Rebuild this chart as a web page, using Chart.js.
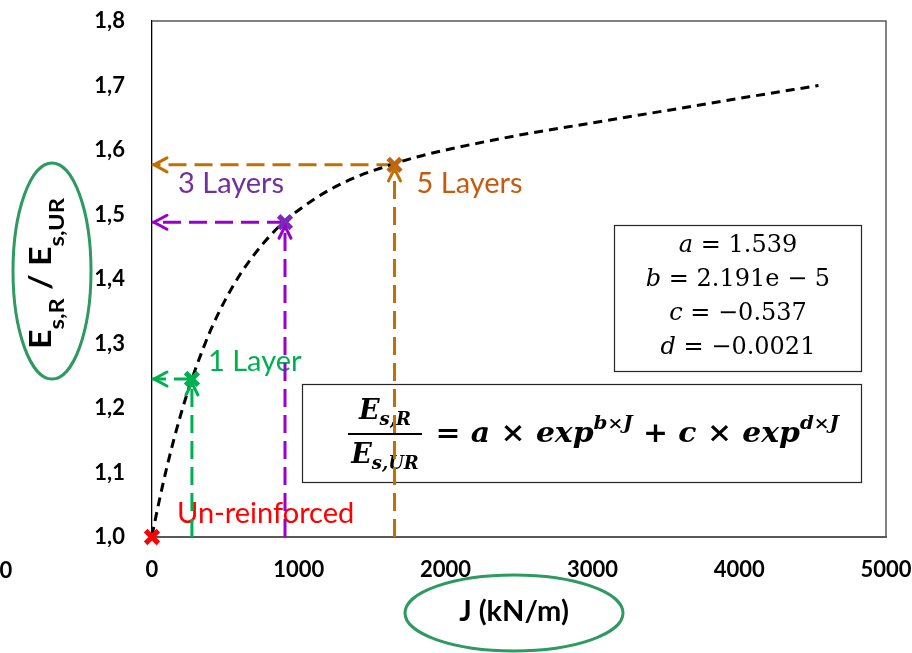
<!DOCTYPE html>
<html>
<head>
<meta charset="utf-8">
<script src="https://cdn.jsdelivr.net/npm/chart.js@4.4.0/dist/chart.umd.min.js"></script>
<style>
  html, body { margin: 0; padding: 0; background: #fff; }
</style>
</head>
<body>
<canvas id="chart" width="912" height="653"></canvas>
<script>
// fitted curve
var curveJ = [0, 50, 100, 150, 200, 250, 300, 400, 500, 600, 700, 800, 900, 1000, 1200, 1400, 1600, 1800, 2000, 2500, 3000, 3500, 4000, 4540];
var curveRatio = [1.002, 1.057, 1.107, 1.152, 1.193, 1.230, 1.263, 1.321, 1.368, 1.407, 1.439, 1.466, 1.489, 1.507, 1.537, 1.559, 1.575, 1.589, 1.600, 1.623, 1.642, 1.661, 1.680, 1.700];

// reinforcement cases
var layerNames = ['Un-reinforced', '1 Layer', '3 Layers', '5 Layers'];
var layerJ = [0, 272, 906, 1652];
var layerRatio = [1.0, 1.245, 1.488, 1.577];

// axes
var xTicks = [0, 1000, 2000, 3000, 4000, 5000];
var yTickLabels = ['1,0', '1,1', '1,2', '1,3', '1,4', '1,5', '1,6', '1,7', '1,8'];

// fit parameters
var paramNames = ['a', 'b', 'c', 'd'];
var paramValues = ['1.539', '2.191e \u2212 5', '\u22120.537', '\u22120.0021'];

var lineColors = ['#ff0000', '#00b050', '#9900cc', '#bf7000'];
var markColors = ['#ff0000', '#00b050', '#7a2ab8', '#c0650f'];
var textColors = ['#ff0000', '#00b050', '#7030a0', '#c55a11'];
var textOffsets = [[25, -14], [16, -8], [-107, -29], [22, 28]];

var datasets = [];
datasets.push({
    label: 'fit',
    data: curveJ.map(function(j, i) { return { x: j, y: curveRatio[i] }; }),
    showLine: true,
    borderColor: '#000',
    borderWidth: 3,
    borderDash: [9, 6],
    pointRadius: 0,
    cubicInterpolationMode: 'monotone',
    order: 1
});
for (var i = 1; i < layerNames.length; i++) {
    // vertical guide up to the point
    datasets.push({
        data: [{ x: layerJ[i], y: 1.0 }, { x: layerJ[i], y: layerRatio[i] }],
        showLine: true, borderColor: lineColors[i], borderWidth: 3,
        borderDash: [18, 8], pointRadius: 0, order: 2
    });
    // horizontal guide back to the axis
    datasets.push({
        data: [{ x: layerJ[i], y: layerRatio[i] }, { x: 0, y: layerRatio[i] }],
        showLine: true, borderColor: lineColors[i], borderWidth: 3,
        borderDash: [18, 8], pointRadius: 0, order: 2
    });
}
for (var k = 0; k < layerNames.length; k++) {
    datasets.push({
        label: layerNames[k],
        data: [{ x: layerJ[k], y: layerRatio[k] }],
        pointStyle: 'crossRot',
        pointRadius: 9,
        pointBorderWidth: 5,
        pointBorderColor: markColors[k],
        pointBackgroundColor: markColors[k],
        clip: false,
        order: 0
    });
}

function drawRuns(ctx, runs, x, y) {
    runs.forEach(function(r) {
        ctx.font = r[1];
        ctx.fillText(r[0], x, y + (r[2] || 0));
        x += ctx.measureText(r[0]).width;
    });
    return x;
}
function runsWidth(ctx, runs) {
    var w = 0;
    runs.forEach(function(r) { ctx.font = r[1]; w += ctx.measureText(r[0]).width; });
    return w;
}

var decor = {
    id: 'decor',
    beforeDatasetsDraw: function(chart) {
        var ctx = chart.ctx, a = chart.chartArea;
        var xs = chart.scales.x, ys = chart.scales.y;
        ctx.save();
        // top and right of the frame
        ctx.strokeStyle = '#595959';
        ctx.lineWidth = 1.5;
        ctx.beginPath();
        ctx.moveTo(a.left, a.top);
        ctx.lineTo(a.right, a.top);
        ctx.lineTo(a.right, a.bottom);
        ctx.stroke();

        // case labels
        ctx.font = '29px Lato';
        ctx.textAlign = 'left';
        ctx.textBaseline = 'alphabetic';
        for (var i = 0; i < layerNames.length; i++) {
            ctx.fillStyle = textColors[i];
            ctx.fillText(layerNames[i],
                xs.getPixelForValue(layerJ[i]) + textOffsets[i][0],
                ys.getPixelForValue(layerRatio[i]) + textOffsets[i][1]);
        }

        // parameter box
        ctx.fillStyle = '#fff';
        ctx.strokeStyle = '#262626';
        ctx.lineWidth = 1.2;
        ctx.fillRect(614, 225, 247, 146);
        ctx.strokeRect(614.5, 225.5, 247, 146);
        ctx.fillStyle = '#000';
        for (var p = 0; p < paramNames.length; p++) {
            var runs = [[paramNames[p], 'italic 24px "DejaVu Serif"'], [' = ' + paramValues[p], '24px "DejaVu Serif"']];
            var w = runsWidth(ctx, runs);
            drawRuns(ctx, runs, 738 - w / 2, 252 + p * 34);
        }

        // formula box
        ctx.fillStyle = '#fff';
        ctx.fillRect(302, 384, 559, 98);
        ctx.strokeRect(302.5, 384.5, 559, 98);
        ctx.fillStyle = '#000';
        var FB = 'italic bold 27px "DejaVu Serif"';
        var FS = 'italic bold 18px "DejaVu Serif"';
        var UB = 'bold 27px "DejaVu Serif"';
        var US = 'bold 17px "DejaVu Serif"';
        var num = [['E', FB], ['s,R', FS, 6]];
        var den = [['E', FB], ['s,UR', FS, 6]];
        drawRuns(ctx, num, 385 - runsWidth(ctx, num) / 2, 419);
        drawRuns(ctx, den, 385 - runsWidth(ctx, den) / 2, 463);
        ctx.fillRect(348, 433, 74, 2);
        var rhs = [[' = ', UB], ['a', FB], [' \u00d7 ', UB], ['exp', FB], ['b', FS, -13], ['\u00d7', US, -13], ['J', FS, -13],
                   [' + ', UB], ['c', FB], [' \u00d7 ', UB], ['exp', FB], ['d', FS, -13], ['\u00d7', US, -13], ['J', FS, -13]];
        var rw = runsWidth(ctx, rhs);
        ctx.save();
        ctx.translate(425, 442);
        ctx.scale(414 / rw, 1);
        drawRuns(ctx, rhs, 0, 0);
        ctx.restore();
        ctx.restore();
    },
    afterDatasetsDraw: function(chart) {
        var ctx = chart.ctx;
        var xs = chart.scales.x, ys = chart.scales.y;
        var x0 = xs.getPixelForValue(0);
        ctx.save();
        ctx.lineWidth = 3;
        ctx.lineCap = 'round';
        for (var i = 1; i < layerNames.length; i++) {
            var px = xs.getPixelForValue(layerJ[i]);
            var py = ys.getPixelForValue(layerRatio[i]);
            ctx.strokeStyle = lineColors[i];
            ctx.beginPath();
            ctx.moveTo(x0 + 15, py - 7);
            ctx.lineTo(x0 + 2, py);
            ctx.lineTo(x0 + 15, py + 7);
            ctx.moveTo(px - 6, py + 16);
            ctx.lineTo(px, py + 4);
            ctx.lineTo(px + 6, py + 16);
            ctx.stroke();
        }
        ctx.restore();
    },
    afterDraw: function(chart) {
        var ctx = chart.ctx;
        ctx.save();
        // ellipses round the axis titles
        ctx.strokeStyle = '#2e9a62';
        ctx.lineWidth = 3;
        ctx.beginPath();
        ctx.ellipse(52, 271, 39, 108, 0, 0, Math.PI * 2);
        ctx.stroke();
        ctx.beginPath();
        ctx.ellipse(514, 613, 109, 38, 0, 0, Math.PI * 2);
        ctx.stroke();

        ctx.fillStyle = '#000';
        ctx.font = 'bold 29px Lato';
        ctx.textAlign = 'center';
        ctx.textBaseline = 'middle';
        ctx.fillText('J (kN/m)', 514, 612);

        // stray tick label at the left edge
        ctx.font = 'bold 22px Lato';
        ctx.fillText('0', 6, 571);

        // rotated y title
        ctx.textAlign = 'left';
        ctx.textBaseline = 'alphabetic';
        var BE = 'bold 30px Lato', BS = 'bold 21px Lato';
        var title = [['E', BE], ['s,R', BS, 13], [' / ', BE], ['E', BE], ['s,UR', BS, 13]];
        var tw = runsWidth(ctx, title);
        ctx.translate(51, 349);
        ctx.rotate(-Math.PI / 2);
        ctx.scale(151 / tw, 1);
        drawRuns(ctx, title, 0, 0);
        ctx.restore();
    }
};

new Chart(document.getElementById('chart'), {
    type: 'scatter',
    data: { datasets: datasets },
    plugins: [decor],
    options: {
        responsive: false,
        animation: false,
        devicePixelRatio: 1,
        layout: { padding: { top: 21, right: 26, bottom: 0, left: 0 } },
        plugins: { legend: { display: false }, tooltip: { enabled: false } },
        scales: {
            x: {
                type: 'linear', min: 0, max: 5000,
                afterFit: function(s) { s.height = 116; s.paddingLeft = 0; s.paddingRight = 0; },
                afterBuildTicks: function(s) { s.ticks = xTicks.map(function(v) { return { value: v }; }); },
                grid: { display: false, drawTicks: false },
                border: { display: true, color: '#595959', width: 2 },
                ticks: {
                    padding: 20, color: '#000', font: { family: 'Lato', size: 22, weight: 'bold' }, maxRotation: 0,
                    callback: function(v, i) { return String(xTicks[i]); }
                }
            },
            y: {
                type: 'linear', min: 1.0, max: 1.8,
                afterFit: function(s) { s.width = 152; s.paddingTop = 0; s.paddingBottom = 0; },
                afterBuildTicks: function(s) { s.ticks = yTickLabels.map(function(t, i) { return { value: 1 + i / 10 }; }); },
                grid: { display: false, drawTicks: false },
                border: { display: true, color: '#000', width: 1.3 },
                ticks: {
                    padding: 27, color: '#000', font: { family: 'Lato', size: 22, weight: 'bold' },
                    callback: function(v, i) { return yTickLabels[i]; }
                }
            }
        }
    }
});
</script>
</body>
</html>
